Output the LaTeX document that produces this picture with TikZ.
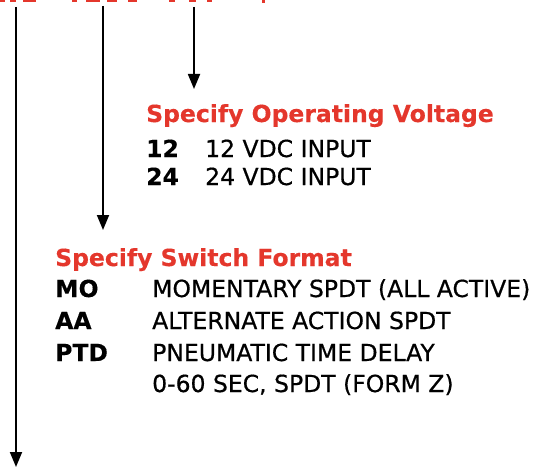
\documentclass[tikz,border=0pt]{standalone}
\usepackage{fontspec}
\setmainfont{DejaVu Sans}[UprightFeatures={FakeBold=0.6},BoldFont={DejaVu Sans Bold},BoldFeatures={FakeBold=0.3}]
\usetikzlibrary{arrows.meta}
\definecolor{hdred}{RGB}{228,55,44}
\begin{document}
\begin{tikzpicture}[x=1pt,y=-1pt,
  txt/.style={anchor=base west,inner sep=0pt,font=\fontsize{23.5}{28}\selectfont},
  code/.style={txt,font=\fontsize{23.5}{28}\selectfont\bfseries},
  head/.style={txt,font=\fontsize{23.5}{28}\selectfont\bfseries,text=hdred},
  pointer/.style={line width=1.8pt,-{Triangle[length=15pt,width=12pt]}},
  frag/.style={fill=hdred,draw=none}]
\useasboundingbox (0,0) rectangle (548,468);
% cut-off red code fragments at the top edge
\foreach \a/\b in {0/5,10/16,23/36,72/77,86/100,107/117,128/137,169/175,189/196,207/212}
  \fill[frag] (\a,0) rectangle (\b,2.5);
\fill[frag] (262,0) rectangle (265,3.5);
% arrows
\coordinate (s1) at (16,7);   \coordinate (e1) at (16,467);
\coordinate (s2) at (103,6);  \coordinate (e2) at (103,230);
\coordinate (s3) at (194,7);  \coordinate (e3) at (194,89);
\draw[pointer] (s1) -- (e1);
\draw[pointer] (s2) -- (e2);
\draw[pointer] (s3) -- (e3);
% voltage block
\node[head] (vh) at (146,122) {Specify Operating Voltage};
\node[code] (v12) at (146,157) {12};
\node[txt] (v12t) at (205,157) {12 VDC INPUT};
\node[code] (v24) at (146,185) {24};
\node[txt] (v24t) at (205,185) {24 VDC INPUT};
% switch format block
\node[head] (sh) at (55,266) {Specify Switch Format};
\node[code] (mo) at (55,297) {MO};
\node[txt] (mot) at (152,297) {MOMENTARY SPDT (ALL ACTIVE)};
\node[code] (aa) at (55,329) {AA};
\node[txt] (aat) at (152,329) {ALTERNATE ACTION SPDT};
\node[code] (ptd) at (55,361) {PTD};
\node[txt] (ptdt) at (152,361) {PNEUMATIC TIME DELAY};
\node[txt] (ptdt2) at (152,392) {0-60 SEC, SPDT (FORM Z)};
\end{tikzpicture}
\end{document}
